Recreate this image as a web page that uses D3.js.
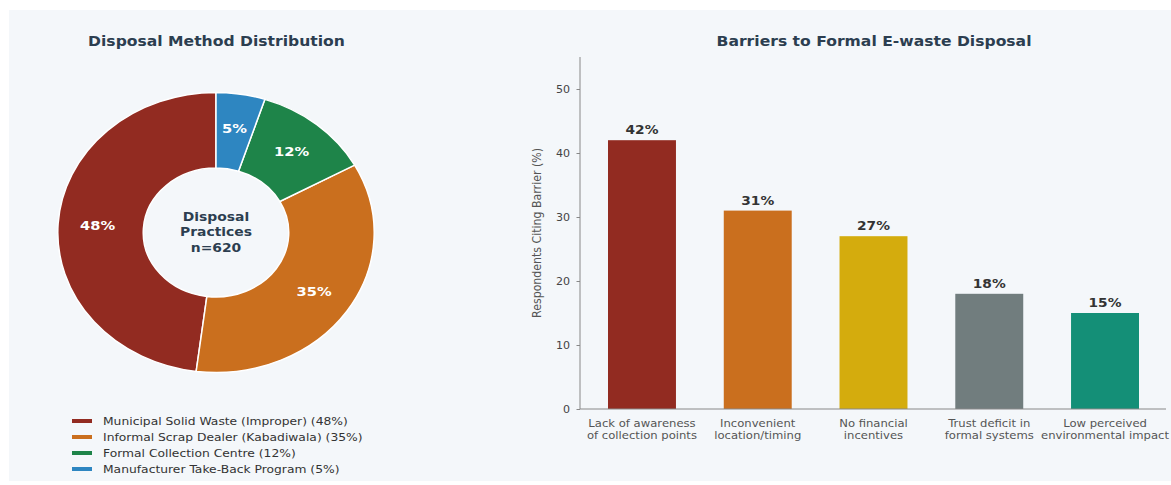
<!DOCTYPE html>
<html><head><meta charset="utf-8">
<script src="https://cdn.jsdelivr.net/npm/d3@7"></script>
<style>
html,body{margin:0;padding:0;background:#fff;}
svg{display:block;font-family:"DejaVu Sans",sans-serif;}
</style></head>
<body>
<svg id="chart" width="1171" height="485"></svg>
<script>
// ---- data ----
const disposalMethods = ["Municipal Solid Waste (Improper)", "Informal Scrap Dealer (Kabadiwala)", "Formal Collection Centre", "Manufacturer Take-Back Program"];
const disposalShares = [48, 35, 12, 5];
const disposalColors = ["#922B21", "#CA6F1E", "#1E8449", "#2E86C1"];
const centerLines = ["Disposal", "Practices", "n=620"];

const barrierLines = [["Lack of awareness","of collection points"],["Inconvenient","location/timing"],["No financial","incentives"],["Trust deficit in","formal systems"],["Low perceived","environmental impact"]];
const barrierValues = [42, 31, 27, 18, 15];
const barrierColors = ["#922B21", "#CA6F1E", "#D4AC0D", "#717D7E", "#148F77"];
const yTicks = [0, 10, 20, 30, 40, 50];

const SX = 1.13; // horizontal stretch of the original picture
const svg = d3.select("#chart");
svg.append("rect").attr("x",9).attr("y",10).attr("width",1162).attr("height",471).attr("fill","#F4F7FA");

const titleColor = "#2C3E50";
function place(sel, fx, fy){
  return sel.attr("transform",(d,i)=>`translate(${fx(d,i)},${fy(d,i)}) scale(${SX},1)`);
}

// ---- donut ----
place(svg.append("text"),()=>216.5,()=>46).attr("text-anchor","middle")
  .attr("font-size",13.8).attr("font-weight","bold").attr("fill",titleColor)
  .text("Disposal Method Distribution");

const cx = 216, cy = 232.5, R = 140;
const donut = svg.append("g").attr("transform",`translate(${cx},${cy}) scale(${SX},1)`);
const pie = d3.pie().sort(null).startAngle(0).endAngle(-2*Math.PI);
const arcs = pie(disposalShares);
const arc = d3.arc().innerRadius(R*0.46).outerRadius(R);
donut.selectAll("path").data(arcs).join("path")
  .attr("d",arc).attr("fill",(d,i)=>disposalColors[i])
  .attr("stroke","#fff").attr("stroke-width",1.5).attr("vector-effect","non-scaling-stroke");

const labelArc = d3.arc().innerRadius(R*0.75).outerRadius(R*0.75);
place(svg.append("g").selectAll("text").data(arcs).join("text"),
    d=>cx + labelArc.centroid(d)[0]*SX, d=>cy + labelArc.centroid(d)[1])
  .attr("dy","0.35em").attr("text-anchor","middle")
  .attr("font-size",13).attr("font-weight","bold").attr("fill","#fff")
  .text(d=>d.data+"%");

place(svg.append("g").selectAll("text").data(centerLines).join("text"),
    ()=>cx, (d,i)=>cy - 16 + i*15.5)
  .attr("dy","0.35em").attr("text-anchor","middle")
  .attr("font-size",12.3).attr("font-weight","bold").attr("fill",titleColor)
  .text(d=>d);

// legend
const leg = svg.append("g");
disposalMethods.forEach((m,i)=>{
  const y = 421 + i*16;
  leg.append("line").attr("x1",72).attr("x2",92).attr("y1",y).attr("y2",y)
    .attr("stroke",disposalColors[i]).attr("stroke-width",4);
  place(leg.append("text"),()=>103,()=>y).attr("dy","0.35em")
    .attr("font-size",10.9).attr("fill","#333").text(`${m} (${disposalShares[i]}%)`);
});

// ---- bar chart ----
place(svg.append("text"),()=>874,()=>46).attr("text-anchor","middle")
  .attr("font-size",13.8).attr("font-weight","bold").attr("fill",titleColor)
  .text("Barriers to Formal E-waste Disposal");

const x0 = 580, x1 = 1166, yTop = 57, yBot = 409;
const x = d3.scaleBand().domain(d3.range(barrierValues.length)).range([584.1, 1162.9]);
const y = d3.scaleLinear().domain([0,55]).range([yBot,yTop]);
const barFrac = 0.587;

const plot = svg.append("g");
plot.selectAll("rect").data(barrierValues).join("rect")
  .attr("x",(d,i)=>x(i)+x.bandwidth()*(1-barFrac)/2)
  .attr("width",x.bandwidth()*barFrac)
  .attr("y",d=>y(d)).attr("height",d=>yBot-y(d))
  .attr("fill",(d,i)=>barrierColors[i]);

place(plot.selectAll("text.val").data(barrierValues).join("text").attr("class","val"),
    (d,i)=>x(i)+x.bandwidth()/2, d=>y(d)-6)
  .attr("text-anchor","middle").attr("font-size",12.2).attr("font-weight","bold").attr("fill","#333")
  .text(d=>d+"%");

const yAxis = svg.append("g").attr("transform",`translate(${x0},0)`)
  .call(d3.axisLeft(y).tickValues(yTicks).tickSize(3.5).tickPadding(4));
yAxis.select(".domain").attr("stroke","#888").attr("d",`M0,${yTop}V${yBot}`);
yAxis.selectAll(".tick line").attr("stroke","#888");
yAxis.selectAll(".tick text").attr("font-size",9.8).attr("fill","#444").attr("font-family","DejaVu Sans")
  .attr("transform",`scale(${SX},1)`).attr("x",-10/SX);

const xAxis = svg.append("g").attr("transform",`translate(0,${yBot})`)
  .call(d3.axisBottom(x).tickSize(0).tickFormat(""));
xAxis.select(".domain").attr("stroke","#888").attr("d",`M${x0},0H${x1}`);
xAxis.selectAll(".tick").each(function(d){
  const t = d3.select(this).append("text").attr("fill","#555").attr("font-size",10.3)
    .attr("text-anchor","middle").attr("font-family","DejaVu Sans").attr("transform",`scale(${SX},1)`);
  barrierLines[d].forEach((ln,k)=>t.append("tspan").attr("x",0).attr("y",18+k*12).text(ln));
});

svg.append("text").attr("transform",`translate(541,${(yTop+yBot)/2}) scale(${SX},1) rotate(-90)`)
  .attr("text-anchor","middle").attr("font-size",11).attr("fill","#555")
  .text("Respondents Citing Barrier (%)");
</script>
</body></html>
